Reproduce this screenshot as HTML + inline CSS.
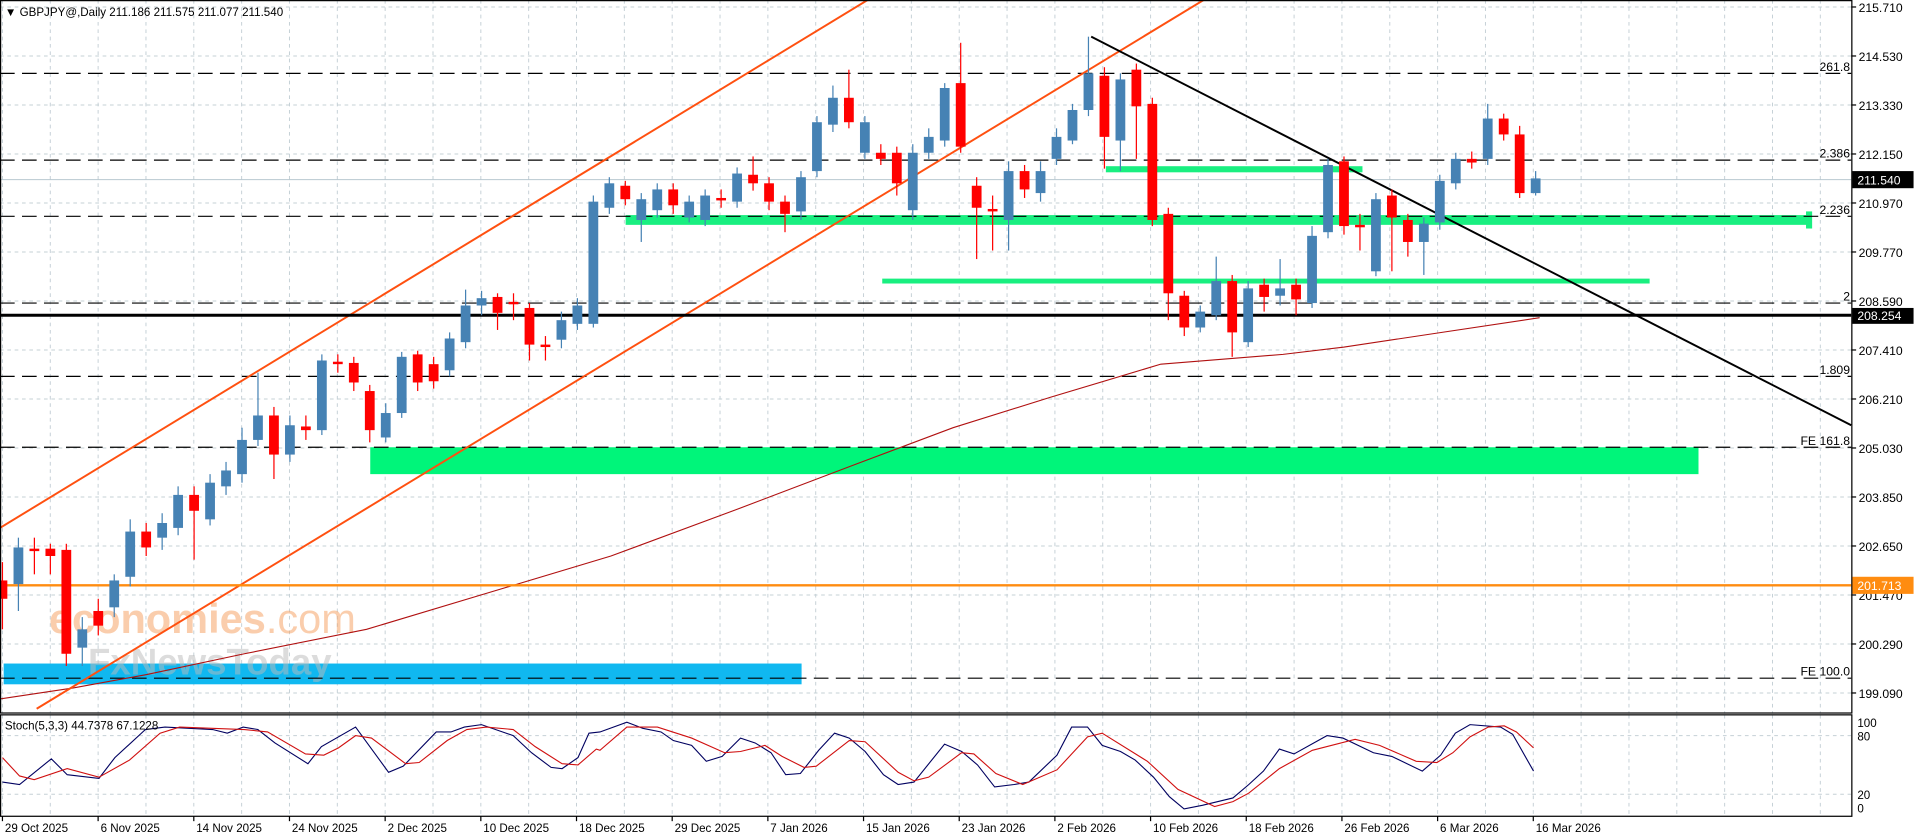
<!DOCTYPE html>
<html><head><meta charset="utf-8"><style>
html,body{margin:0;padding:0;background:#fff;width:1916px;height:840px;overflow:hidden}
svg{display:block}
text{font-family:"Liberation Sans",sans-serif;font-size:10px;fill:#000}
</style></head><body>
<svg id="s" width="1916" height="840" viewBox="0 0 1568 687.4" xmlns="http://www.w3.org/2000/svg">
<rect width="1568" height="687.4" fill="#fff"/>
<g id="grid" stroke="#c5d0d6" stroke-width="0.8" stroke-dasharray="3,3"></g>
<!-- zones -->
<rect x="3" y="543" width="653" height="17" fill="#10b8f0"/>
<rect x="303" y="366" width="1087" height="22" fill="#00f57a"/>
<rect x="512" y="176" width="970" height="8" fill="#19ef80"/>
<rect x="1478" y="173" width="5" height="14" fill="#19ef80"/>
<rect x="905" y="136" width="210" height="5" fill="#19ef80"/>
<rect x="722" y="228" width="628" height="4" fill="#19ef80"/>
<!-- watermark -->
<text x="40" y="518" style="font-size:34px;fill:#f6a66a;opacity:0.55;font-weight:bold">economies<tspan style="font-weight:normal">.com</tspan></text>
<text x="72" y="552" style="font-size:30px;fill:#bbb;opacity:0.5;font-weight:bold">FxNewsToday</text>
<!-- dashed levels -->
<g stroke="#000" stroke-width="1" stroke-dasharray="12,6">
<line x1="0" y1="60" x2="1515" y2="60"/><line x1="0" y1="131" x2="1515" y2="131"/>
<line x1="0" y1="177" x2="1515" y2="177"/><line x1="0" y1="248" x2="1515" y2="248"/>
<line x1="0" y1="308" x2="1515" y2="308"/><line x1="0" y1="366" x2="1515" y2="366"/>
<line x1="0" y1="555" x2="1515" y2="555"/>
</g>
<line x1="0" y1="147" x2="1515" y2="147" stroke="#b8c8d0" stroke-width="0.8"/>
<g text-anchor="end">
<text x="1514" y="58">261.8</text><text x="1514" y="129">2.386</text><text x="1514" y="175">2.236</text>
<text x="1514" y="246">2</text><text x="1514" y="306">1.809</text><text x="1514" y="364">FE 161.8</text><text x="1514" y="553">FE 100.0</text>
</g>
<!-- MA -->
<polyline fill="none" stroke="#b01010" stroke-width="0.9" points="0,572 60,563 120,552 200,535 300,515 400,485 500,455 600,418 700,380 780,350 860,325 950,298 1050,290 1100,284 1180,272 1260,260"/>
<!-- channel -->
<line x1="0" y1="432" x2="710" y2="0" stroke="#ff5010" stroke-width="1.6"/>
<line x1="30" y1="580" x2="985" y2="0" stroke="#ff5010" stroke-width="1.6"/>
<line x1="893" y1="30" x2="1515" y2="348" stroke="#000" stroke-width="1.6"/>
<line x1="0" y1="258" x2="1515" y2="258" stroke="#000" stroke-width="2.5"/>
<line x1="0" y1="479" x2="1515" y2="479" stroke="#ff8c10" stroke-width="2"/>
<g id="candles"></g>
<!-- stoch -->
<polyline fill="none" stroke="#000060" stroke-width="0.9" points="2,640 16,642 42,621 55,634 81,637 94,620 119,597 135,595 174,597 186,600 199,595 211,597 225,608 252,625 263,611 291,595 318,632 330,627 357,599 369,599 380,595 394,593 420,602 435,616 451,628 460,629 473,620 482,600 491,599 513,591 526,596 541,599 551,606 566,610 578,623 591,619 606,604 618,608 631,616 643,634 655,633 670,614 683,600 695,604 708,615 723,634 735,642 748,640 773,609 787,615 800,626 814,644 830,642 842,640 865,618 877,595 890,595 902,610 917,615 929,622 944,636 957,652 969,662 984,659 1009,653 1022,642 1034,631 1047,613 1059,617 1086,602 1099,604 1124,616 1139,619 1164,631 1179,618 1191,600 1203,593 1228,595 1238,601 1255,631"/>
<polyline fill="none" stroke="#d01010" stroke-width="0.9" points="2,620 16,635 28,638 55,629 81,636 106,622 131,600 147,595 200,597 219,599 250,617 265,618 277,612 291,602 304,604 332,625 343,624 366,606 382,597 398,595 420,597 438,611 460,625 473,626 488,613 491,614 513,595 538,595 566,604 593,616 606,615 626,610 640,619 658,628 668,627 695,606 708,607 735,632 748,639 760,636 787,616 797,617 815,633 837,642 865,630 890,603 902,600 939,623 964,646 994,660 1009,656 1022,649 1047,629 1074,614 1109,605 1129,610 1159,623 1176,624 1189,616 1203,603 1218,595 1231,594 1241,599 1255,612"/>
<text x="4" y="597" style="font-size:9.5px">Stoch(5,3,3) 44.7378 67.1228</text>
<!-- frames -->
<rect x="0.5" y="0.5" width="1515" height="583" fill="none" stroke="#000" stroke-width="1"/>
<rect x="0.5" y="585" width="1515" height="83" fill="none" stroke="#000" stroke-width="1"/>
<g id="axis"></g>
<text x="4" y="13" style="font-size:9.5px">▼ GBPJPY@,Daily  211.186 211.575 211.077 211.540</text>
<rect x="1516" y="140" width="50" height="14" fill="#000"/><text x="1520" y="151" style="fill:#fff">211.540</text>
<rect x="1516" y="252" width="50" height="13" fill="#000"/><text x="1520" y="262" style="fill:#fff">208.254</text>
<rect x="1516" y="472" width="50" height="14" fill="#ff8c10"/><text x="1520" y="483" style="fill:#fff">201.713</text>
</svg>
<script>
var NS="http://www.w3.org/2000/svg";
function el(p,t,a,tx){var e=document.createElementNS(NS,t);for(var k in a)e.setAttribute(k,a[k]);if(tx)e.textContent=tx;p.appendChild(e);return e;}
var g=document.getElementById('grid'),ax=document.getElementById('axis');
var ticks=["215.710","214.530","213.330","212.150","210.970","209.770","208.590","207.410","206.210","205.030","203.850","202.650","201.470","200.290","199.090"];
for(var i=0;i<ticks.length;i++){var y=5.7+i*40.1;el(g,'line',{x1:0,y1:y,x2:1515,y2:y});el(ax,'line',{x1:1515,y1:y,x2:1519,y2:y,stroke:'#000'});el(ax,'text',{x:1521,y:y+4},ticks[i]);}
for(var x=2;x<1515;x+=39.15){el(g,'line',{x1:x,y1:0,x2:x,y2:584});el(g,'line',{x1:x,y1:585,x2:x,y2:668});}
[602,650].forEach(function(y){el(g,'line',{x1:0,y1:y,x2:1515,y2:y});});
[["100",591],["80",602],["20",650],["0",661]].forEach(function(a){el(ax,'text',{x:1520,y:a[1]+4,style:'font-size:9.5px'},a[0]);});
var dates=["29 Oct 2025","6 Nov 2025","14 Nov 2025","24 Nov 2025","2 Dec 2025","10 Dec 2025","18 Dec 2025","29 Dec 2025","7 Jan 2026","15 Jan 2026","23 Jan 2026","2 Feb 2026","10 Feb 2026","18 Feb 2026","26 Feb 2026","6 Mar 2026","16 Mar 2026"];
for(var i=0;i<dates.length;i++){var x=2+i*78.3;el(ax,'line',{x1:x,y1:668,x2:x,y2:672,stroke:'#000'});el(ax,'text',{x:x+2,y:681,style:'font-size:9.5px'},dates[i]);}
var C=[
['r',475,490,460,515],['b',448,478,440,500],['r',449,451,440,470],['r',449,455,445,470],['r',450,535,445,545],
['b',515,530,505,545],['r',500,512,490,520],['b',475,497,470,505],['b',435,472,425,480],['r',435,448,428,455],
['b',428,440,420,450],['b',405,432,398,438],['r',405,418,398,458],['b',395,425,388,430],['b',385,398,378,405],
['b',360,388,350,395],['b',340,360,305,365],['r',340,372,333,392],['b',348,372,340,378],['r',349,352,340,360],
['b',295,352,290,356],['r',296,298,290,305],['r',297,313,292,320],['r',320,352,315,362],['b',338,358,330,362],
['b',292,338,288,342],['r',290,313,287,320],['r',298,312,292,318],['b',277,303,272,308],['b',250,280,237,285],
['b',244,250,238,258],['r',243,256,240,270],['r',247,249,240,262],['r',252,282,248,295],['r',282,284,275,295],
['b',262,278,255,285],['b',250,265,244,270],['b',165,265,160,268],['b',150,170,145,175],['r',152,163,148,168],
['b',163,180,158,198],['b',155,172,150,178],['r',155,168,150,175],['b',165,178,160,182],['b',160,180,155,185],
['r',162,164,155,170],['b',142,165,137,170],['r',143,150,128,156],['r',150,165,145,172],['r',165,175,160,190],
['b',145,173,140,180],['b',100,140,95,145],['b',80,102,70,108],['r',80,100,57,105],['b',100,125,95,130],
['r',125,130,118,135],['r',125,150,120,160],['b',125,172,118,180],['b',112,125,105,130],['b',72,115,68,120],
['r',68,120,35,125],['r',152,170,145,212],['r',171,173,160,205],['b',140,180,132,205],['r',140,155,135,162],
['b',140,158,132,165],['b',112,130,105,135],['b',90,115,85,118],['b',60,90,30,95],['r',62,112,55,138],
['b',65,115,60,140],['r',57,87,52,130],['r',85,180,80,185],['r',175,240,170,262],['r',242,268,238,275],
['b',255,268,250,272],['b',230,258,210,262],['r',230,272,225,292],['b',236,280,230,284],['r',233,243,228,255],
['b',236,242,212,250],['r',233,245,228,258],['b',193,248,185,252],['b',135,190,130,195],['r',132,185,128,192],
['r',184,186,175,205],['b',163,222,158,226],['r',160,178,155,222],['r',180,198,175,210],['b',183,198,178,225],
['b',148,182,143,188],['b',130,150,125,155],['r',130,133,124,138],['b',97,130,85,135],['r',97,110,93,115],
['r',110,158,103,162],['b',146,158,140,160]];
var cg=document.getElementById('candles');
for(var i=0;i<C.length;i++){var c=C[i],x=2+13.07*i,col=c[0]=='r'?'#ff0000':'#4682b4';
el(cg,'line',{x1:x,y1:c[3],x2:x,y2:c[4],stroke:col,'stroke-width':1});
var h=Math.max(c[2]-c[1],1.5);el(cg,'rect',{x:x-4,y:c[1],width:8,height:h,fill:col});}
</script>
</body></html>
